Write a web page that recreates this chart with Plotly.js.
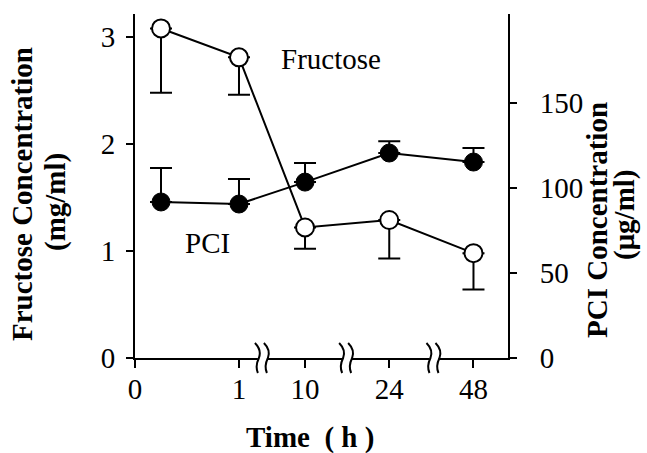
<!DOCTYPE html>
<html>
<head>
<meta charset="utf-8">
<script src="https://cdn.plot.ly/plotly-3.0.1.min.js"></script>
<style>html,body{margin:0;padding:0;background:#fff;}#chart{width:647px;height:453px;}</style>
</head>
<body>
<div id="chart"></div>
<script>
// ---- data ----
const timeH = [0.25, 1, 10, 24, 48];              // sampling time (h)
const fructose = [3.08, 2.81, 1.22, 1.29, 0.98];  // mg/ml
const fructoseErrMinus = [0.60, 0.35, 0.20, 0.36, 0.34];
const pci = [91.8, 90.6, 103.5, 120.6, 115.3];    // ug/ml
const pciErrPlus = [20.0, 14.7, 11.2, 7.0, 8.2];
const xTickTimes = [0, 1, 10, 24, 48];
const xTickLabels = ['0', '1', '10', '24', '48'];
const yLeftTicks = [0, 1, 2, 3];
const yRightTicks = [0, 50, 100, 150];

// ---- broken time axis scale: linear 0-1 h, then equally spaced segments ----
const brokenTimes = [10, 24, 48];
function tpos(t) {
  if (t <= 1) return t;
  const k = brokenTimes.indexOf(t);
  return 1.635 + 0.81 * k;
}
const xRange = [0, 3.587];
const breakPos = [1.23, 2.04, 2.88];

const serif = 'Liberation Serif, Times New Roman, serif';
const FS = 29;

const traces = [
  {
    x: timeH.map(tpos), y: pci, yaxis: 'y2', type: 'scatter', mode: 'lines+markers',
    line: {color: 'black', width: 2},
    marker: {symbol: 'circle', size: 18, color: 'black', line: {color: 'black', width: 1}},
    error_y: {type: 'data', symmetric: false, array: pciErrPlus, arrayminus: pciErrPlus.map(() => NaN),
              color: 'black', thickness: 2, width: 11},
    showlegend: false, hoverinfo: 'skip'
  },
  {
    x: timeH.map(tpos), y: fructose, yaxis: 'y', type: 'scatter', mode: 'lines+markers',
    line: {color: 'black', width: 2},
    marker: {symbol: 'circle', size: 18, color: 'white', line: {color: 'black', width: 2}},
    error_y: {type: 'data', symmetric: false, array: fructose.map(() => NaN), arrayminus: fructoseErrMinus,
              color: 'black', thickness: 2, width: 11},
    showlegend: false, hoverinfo: 'skip'
  }
];

const shapes = [];
breakPos.forEach(b => {
  const px = (b - xRange[0]) / (xRange[1] - xRange[0]);
  shapes.push({type: 'rect', xref: 'paper', yref: 'paper', xsizemode: 'pixel', ysizemode: 'pixel',
    xanchor: px, yanchor: 0, x0: -5, x1: 4, y0: -3, y1: 3,
    fillcolor: 'white', line: {width: 0}, layer: 'above'});
  [-5, 4].forEach(dx => {
    shapes.push({type: 'path', xref: 'paper', yref: 'paper', xsizemode: 'pixel', ysizemode: 'pixel',
      xanchor: px, yanchor: 0,
      path: `M ${dx-3},15 Q ${dx+4},8 ${dx+1},0 Q ${dx-3},-8 ${dx},-15`,
      line: {color: 'black', width: 2}, layer: 'above'});
  });
});

function py(pix) { return (358 - pix) / 344; }
function pxp(pix) { return (pix - 135) / 373; }
const bold = {family: serif, size: FS, color: 'black', weight: 'bold'};

const layout = {
  width: 647, height: 453,
  margin: {l: 135, r: 139, t: 14, b: 95, pad: 0},
  paper_bgcolor: 'white', plot_bgcolor: 'white',
  font: {family: serif, size: FS, color: 'black'},
  xaxis: {
    range: xRange, showgrid: false, zeroline: false,
    showline: true, linecolor: 'black', linewidth: 2,
    tickmode: 'array', tickvals: xTickTimes.map(tpos), ticktext: xTickLabels,
    ticks: 'outside', ticklen: 8, tickwidth: 2, tickcolor: 'black',
    tickfont: {family: serif, size: FS}, ticklabelstandoff: -4
  },
  yaxis: {
    range: [0, 3.215], showgrid: false, zeroline: false,
    showline: true, linecolor: 'black', linewidth: 2,
    tickmode: 'array', tickvals: yLeftTicks, ticktext: yLeftTicks.map(String),
    ticks: 'outside', ticklen: 7, tickwidth: 2, tickcolor: 'black',
    tickfont: {family: serif, size: FS}, ticklabelstandoff: 5
  },
  yaxis2: {
    overlaying: 'y', side: 'right', range: [0, 202.4], showgrid: false, zeroline: false,
    showline: true, linecolor: 'black', linewidth: 2,
    tickmode: 'array', tickvals: yRightTicks, ticktext: yRightTicks.map(String),
    ticks: 'outside', ticklen: 7, tickwidth: 2, tickcolor: 'black',
    tickfont: {family: serif, size: FS}, ticklabelstandoff: 17
  },
  shapes: shapes,
  annotations: [
    {text: 'Fructose Concentration', xref: 'paper', yref: 'paper', x: pxp(22), y: py(194),
     textangle: -90, showarrow: false, xanchor: 'center', yanchor: 'middle', font: bold},
    {text: '(mg/ml)', xref: 'paper', yref: 'paper', x: pxp(55), y: py(202),
     textangle: -90, showarrow: false, xanchor: 'center', yanchor: 'middle', font: bold},
    {text: 'PCI Concentration', xref: 'paper', yref: 'paper', x: pxp(597), y: py(220),
     textangle: -90, showarrow: false, xanchor: 'center', yanchor: 'middle', font: bold},
    {text: '(μg/ml)', xref: 'paper', yref: 'paper', x: pxp(625), y: py(215),
     textangle: -90, showarrow: false, xanchor: 'center', yanchor: 'middle', font: bold},
    {text: 'Time\u2002( h )', xref: 'paper', yref: 'paper', x: pxp(310), y: py(437),
     showarrow: false, xanchor: 'center', yanchor: 'middle', font: bold},
    {text: 'Fructose', xref: 'x', yref: 'y', x: 1.885, y: 2.79, showarrow: false,
     xanchor: 'center', yanchor: 'middle', font: {family: serif, size: FS, color: 'black'}},
    {text: 'PCI', xref: 'x', yref: 'y', x: 0.70, y: 1.075, showarrow: false,
     xanchor: 'center', yanchor: 'middle', font: {family: serif, size: FS, color: 'black'}}
  ]
};

Plotly.newPlot('chart', traces, layout, {staticPlot: true, displayModeBar: false});
</script>
</body>
</html>
